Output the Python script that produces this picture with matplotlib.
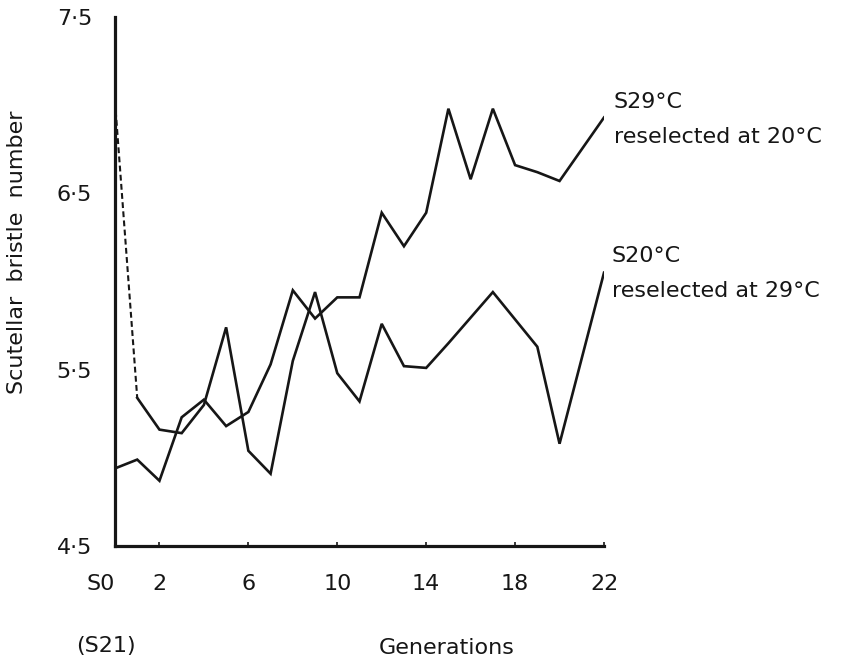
import matplotlib
matplotlib.use("Agg")
import matplotlib.pyplot as plt

# ---- data ----
# Line ending high (S29°C reselected at 20°C)
gen_b = [0, 1, 2, 3, 4, 5, 6, 7, 8, 9, 10, 11, 12, 13, 14, 15, 16, 17, 18, 19, 20, 22]
val_b = [4.94, 4.99, 4.87, 5.23, 5.33, 5.18, 5.26, 5.53, 5.95, 5.79, 5.91, 5.91,
         6.39, 6.20, 6.39, 6.98, 6.58, 6.98, 6.66, 6.62, 6.57, 6.93]

# Line ending lower (S20°C reselected at 29°C), dashed start from S0
gen_a_dash = [0, 1]
val_a_dash = [7.02, 5.34]
gen_a = [1, 2, 3, 4, 5, 6, 7, 8, 9, 10, 11, 12, 13, 14, 15, 17, 19, 20, 22]
val_a = [5.34, 5.16, 5.14, 5.30, 5.74, 5.04, 4.91, 5.55, 5.94, 5.48, 5.32,
         5.76, 5.52, 5.51, 5.65, 5.94, 5.63, 5.08, 6.05]

x_ticks = [0, 2, 6, 10, 14, 18, 22]
x_tick_labels = ["S0", "2", "6", "10", "14", "18", "22"]
y_ticks = [4.5, 5.5, 6.5, 7.5]
y_tick_labels = ["4·5", "5·5", "6·5", "7·5"]

W, H = 845, 659
fig = plt.figure(figsize=(W / 100, H / 100), dpi=100)
plt.rcParams['font.family'] = ['DejaVu Sans']

left, right, top, bottom = 115, 604, 17, 546
ax = fig.add_axes([left / W, 1 - bottom / H, (right - left) / W, (bottom - top) / H])

ink = "#161616"
ax.plot(gen_b, val_b, color=ink, lw=1.9, solid_joinstyle="miter")
ax.plot(gen_a, val_a, color=ink, lw=1.9, solid_joinstyle="miter")
ax.plot(gen_a_dash, val_a_dash, color=ink, lw=1.5, dashes=(2.8, 1.6))

ax.set_xlim(0, 22)
ax.set_ylim(4.5, 7.5)
for s in ["top", "right"]:
    ax.spines[s].set_visible(False)
for s in ["left", "bottom"]:
    ax.spines[s].set_linewidth(2.3)
    ax.spines[s].set_color(ink)

fs = 16
ax.set_xticks(x_ticks)
ax.set_xticklabels(x_tick_labels, fontsize=fs, color=ink)
ax.set_yticks(y_ticks)
ax.set_yticklabels(y_tick_labels, fontsize=fs, color=ink)
ax.tick_params(axis="x", direction="in", length=3, width=1.2, pad=20, colors=ink)
ax.tick_params(axis="y", length=0, pad=16.5, colors=ink)
ax.get_xticklabels()[0].set_horizontalalignment("right")

fig.text(17 / W, 1 - 252 / H, "Scutellar  bristle  number", rotation=90,
         ha="center", va="center", fontsize=fs, color=ink)
fig.text(447 / W, 1 - 648 / H, "Generations", ha="center", va="center", fontsize=fs, color=ink)
fig.text(106 / W, 1 - 646 / H, "(S21)", ha="center", va="center", fontsize=fs, color=ink)

fig.text(614 / W, 1 - 102 / H, "S29°C", ha="left", va="center", fontsize=fs, color=ink)
fig.text(614 / W, 1 - 137 / H, "reselected at 20°C", ha="left", va="center", fontsize=fs, color=ink)
fig.text(612 / W, 1 - 256 / H, "S20°C", ha="left", va="center", fontsize=fs, color=ink)
fig.text(612 / W, 1 - 291 / H, "reselected at 29°C", ha="left", va="center", fontsize=fs, color=ink)

fig.savefig("out.png", dpi=100, facecolor="white")
